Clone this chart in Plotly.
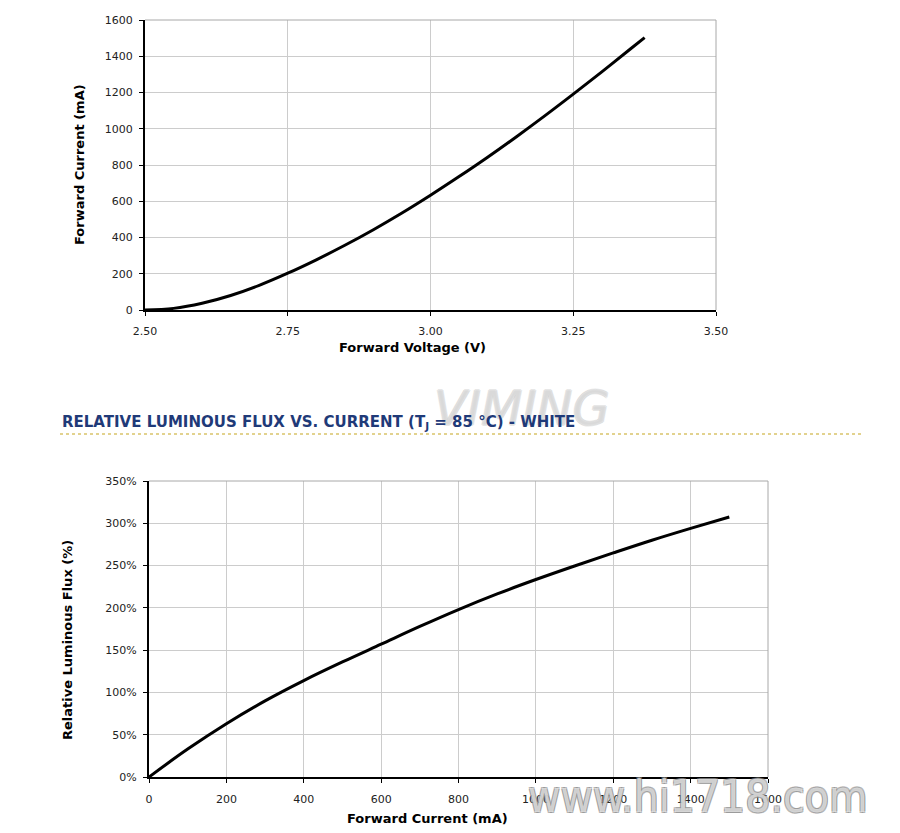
import plotly.graph_objects as go

# Top chart: forward voltage (V) vs forward current (mA)
voltage_v = [2.50, 2.55, 2.60, 2.65, 2.70, 2.75, 2.80, 2.85, 2.90, 2.95, 3.00,
             3.05, 3.10, 3.15, 3.20, 3.25, 3.30, 3.35, 3.375]
current_ma = [0, 9, 37, 80, 136, 203, 277, 357, 443, 535, 633,
              736, 843, 955, 1071, 1191, 1314, 1440, 1503]

# Bottom chart: forward current (mA) vs relative luminous flux (%)
flux_current_ma = [0, 100, 200, 300, 400, 500, 600, 700, 800,
                   900, 1000, 1100, 1200, 1300, 1400, 1500]
rel_flux_pct = [0, 33, 63, 90, 114, 136, 157, 178, 198,
                216.5, 233.5, 249.5, 265, 280, 294, 307.5]

title_text = "RELATIVE LUMINOUS FLUX VS. CURRENT (T<sub>J</sub> = 85 °C) - WHITE"
top_xtitle = "Forward Voltage (V)"
top_ytitle = "Forward Current (mA)"
bot_xtitle = "Forward Current (mA)"
bot_ytitle = "Relative Luminous Flux (%)"

FONT = "DejaVu Sans"
GRID = "#cccccc"
W, H = 900, 833
OFF = 8  # page body margin


def px(x):
    return (x - OFF) / W


def py(y):
    return 1 - (y - OFF) / H


fig = go.Figure()
fig.add_trace(go.Scatter(x=voltage_v, y=current_ma, mode="lines",
                         line=dict(color="black", width=3, shape="spline", smoothing=1),
                         xaxis="x", yaxis="y", showlegend=False, hoverinfo="skip"))
fig.add_trace(go.Scatter(x=flux_current_ma, y=rel_flux_pct, mode="lines",
                         line=dict(color="black", width=3, shape="spline", smoothing=1),
                         xaxis="x2", yaxis="y2", showlegend=False, hoverinfo="skip"))

tickfont = dict(family=FONT, size=11, color="#222")


def axis(domain, anchor, rng, dtick, standoff, fmt="", suffix=""):
    return dict(domain=domain, anchor=anchor, range=rng, dtick=dtick, tickformat=fmt,
                ticksuffix=suffix, automargin=False, ticklabelstandoff=standoff,
                showgrid=True, gridcolor=GRID, gridwidth=1, zeroline=False,
                showline=True, linecolor="black", linewidth=2,
                ticks="outside", ticklen=4, tickcolor="black", tickwidth=1,
                tickfont=tickfont, fixedrange=True)


top_x = [px(145), px(716)]
top_y = [py(310), py(20)]
bot_x = [px(149), px(768)]
bot_y = [py(777), py(481)]

fig.update_layout(
    width=W, height=H,
    margin=dict(l=0, r=0, t=0, b=0),
    paper_bgcolor="white", plot_bgcolor="white",
    font=dict(family=FONT),
    xaxis=axis(top_x, "y", [2.5, 3.5], 0.25, 6, ".2f"),
    yaxis=axis(top_y, "x", [0, 1600], 200, 4),
    xaxis2=axis(bot_x, "y2", [0, 1600], 200, 7, "d"),
    yaxis2=axis(bot_y, "x2", [0, 350], 50, 4, "", "%"),
)

# watermark behind the section title
light_outline = "1px 0 0 #bbb, -1px 0 0 #bbb, 0 1px 0 #bbb, 0 -1px 0 #bbb"
outline = "1px 1px 0 #888, -1px -1px 0 #888, 1px -1px 0 #888, -1px 1px 0 #888"
fig.add_annotation(text="<i>VIMING</i>", xref="paper", yref="paper", x=px(522), y=py(408),
                   xanchor="center", yanchor="middle", showarrow=False,
                   font=dict(family=FONT, size=48, color="rgba(255,255,255,0.35)",
                             shadow=light_outline))

# axis titles
atf = dict(family=FONT, size=13, color="black")
for txt, x, y, ang in [(top_xtitle, 412, 347, 0), (top_ytitle, 80, 165, -90),
                       (bot_xtitle, 427, 818, 0), (bot_ytitle, 67, 640, -90)]:
    fig.add_annotation(text="<b>" + txt + "</b>", xref="paper", yref="paper",
                       x=px(x), y=py(y), xanchor="center", yanchor="middle",
                       textangle=ang, showarrow=False, font=atf)

# gray plot-area borders (top & right)
for xd, yd in [(top_x, top_y), (bot_x, bot_y)]:
    fig.add_shape(type="line", xref="paper", yref="paper", x0=xd[0], x1=xd[1], y0=yd[1], y1=yd[1],
                  line=dict(color="#a8a8a8", width=1))
    fig.add_shape(type="line", xref="paper", yref="paper", x0=xd[1], x1=xd[1], y0=yd[0], y1=yd[1],
                  line=dict(color="#a8a8a8", width=1))

# section title and dotted rule
fig.add_annotation(text="<b>" + title_text + "</b>", xref="paper", yref="paper",
                   x=px(60), y=py(422), xanchor="left", yanchor="middle", showarrow=False,
                   font=dict(family=FONT, size=15, color="#1f3a78"))
fig.add_shape(type="line", xref="paper", yref="paper", x0=px(60), x1=px(862),
              y0=py(434), y1=py(434), line=dict(color="#d9c36a", width=1.5, dash="dot"))

# site watermark over the lower axis
fig.add_annotation(text="www.hi1718.com", xref="paper", yref="paper", x=px(698), y=py(796),
                   xanchor="center", yanchor="middle", showarrow=False,
                   font=dict(family="DejaVu Sans Condensed", size=44,
                             color="rgba(255,255,255,0.6)", shadow=outline))

fig.write_html("out.html")
